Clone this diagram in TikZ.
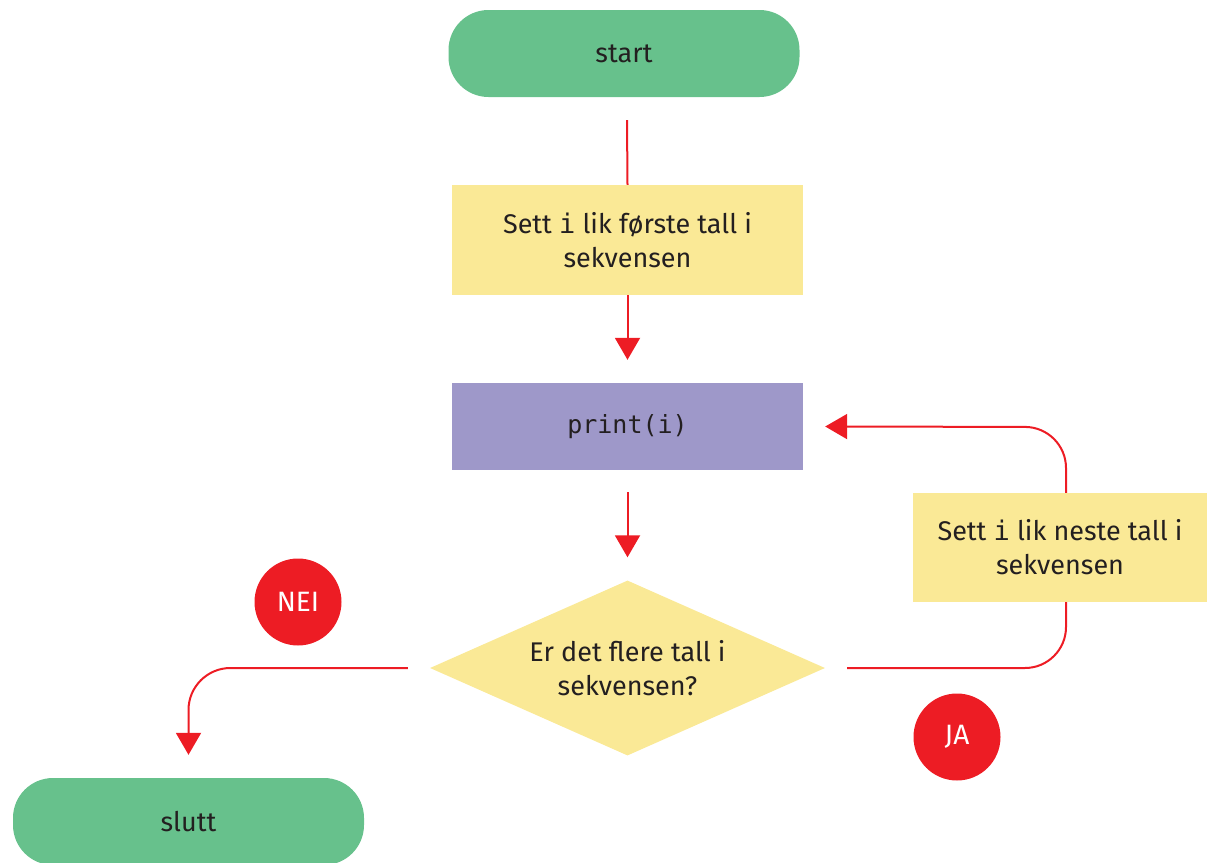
\documentclass[tikz,border=0pt]{standalone}
\usepackage{fontspec}
\setmainfont{Fira Sans}
\newfontfamily\codefont{DejaVu Sans Mono}
\usetikzlibrary{arrows.meta,shapes.geometric,calc}
\definecolor{pillgreen}{HTML}{67C18C}
\definecolor{boxyellow}{HTML}{FAE996}
\definecolor{boxpurple}{HTML}{9E98C9}
\definecolor{linered}{HTML}{ED1C24}
\definecolor{txt}{HTML}{231F20}
\pgfdeclarelayer{bg}
\pgfsetlayers{bg,main}
\begin{document}
\begin{tikzpicture}[x=1pt,y=1pt,
  every node/.style={text=txt,font=\fontsize{27}{34}\selectfont},
  pill/.style={fill=pillgreen,rounded corners=40pt,minimum width=351pt,minimum height=87pt,inner sep=0pt},
  ybox/.style={fill=boxyellow,align=center,inner sep=0pt},
  pbox/.style={fill=boxpurple,minimum width=351pt,minimum height=87pt,inner sep=0pt},
  dec/.style={fill=boxyellow,shape=diamond,aspect=2.257,minimum width=395pt,minimum height=175pt,inner sep=0pt,align=center},
  badge/.style={circle,fill=linered,minimum size=87pt,inner sep=0pt,text=white,font=\fontsize{28}{32}\selectfont},
  conn/.style={draw=linered,line width=2pt},
  arr/.style={conn,-{Triangle[length=22pt,width=25pt]}}]
\useasboundingbox (0,0) rectangle (1207,-862);

\node[pill] (start) at (624,-53.5) {start};
\node[ybox,minimum width=351pt,minimum height=110pt] (b1) at (627.5,-240) {Sett {\codefont i} lik første tall i\\sekvensen};
\node[pbox] (pr) at (627.5,-426.5) {\codefont\fontsize{25}{30}\selectfont print(i)};
\node[dec] (dia) at (627.5,-668) {Er det flere tall i\\sekvensen?};
\node[ybox,minimum width=294pt,minimum height=109pt] (b2) at (1060,-547.5) {Sett {\codefont i} lik neste tall i\\sekvensen};
\node[badge] (ja) at (957,-737) {JA};
\node[badge] (nei) at (298,-602) {NEI};
\node[pill] (slutt) at (188.5,-821.5) {slutt};

\coordinate (c1) at ($(start.south)+(3,-23)$);
\coordinate (c2) at ($(pr.north)+(0,23)$);
\coordinate (c3) at ($(pr.south)+(0,-22)$);
\coordinate (c4) at ($(dia.north)+(0,23)$);
\coordinate (r1) at ($(dia.east)+(22,0)$);
\coordinate (r2) at ($(pr.east)+(22,0)$);
\coordinate (l1) at ($(dia.west)+(-22,0)$);
\coordinate (l2) at ($(slutt.north)+(0,23)$);

\begin{pgfonlayer}{bg}
\draw[conn] (c1) -- (b1.north);
\draw[arr] (b1.south) -- (c2);
\draw[arr] (c3) -- (c4);
\draw[arr,rounded corners=41pt] (r1) -- (1066,-668) -- (1066,-427) -- (r2);
\draw[arr,rounded corners=42pt] (l1) -- (l1 -| l2) -- (l2);
\end{pgfonlayer}
\end{tikzpicture}
\end{document}
